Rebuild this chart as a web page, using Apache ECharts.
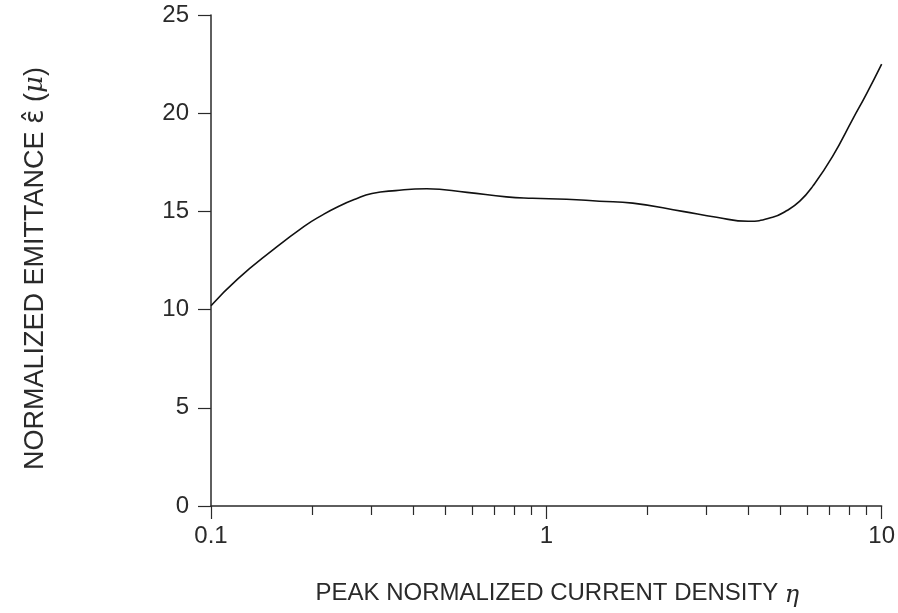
<!DOCTYPE html>
<html lang="en">
<head>
    <meta charset="utf-8">
    <title>emittance</title>
    <script src="https://cdn.jsdelivr.net/npm/echarts@6/dist/echarts.min.js"></script>
</head>
<style type="text/css">
    html, body { margin: 0; padding: 0; background: #fff; }
</style>
<body>
<div id="container" style="width: 898px; height: 613px;"></div>
<script>
    // curve: eta (log axis) -> emittance
    var eta = [0.1, 0.12, 0.152, 0.19, 0.214, 0.239, 0.269, 0.302, 0.355, 0.44, 0.58, 0.76, 0.91, 1.15, 1.44, 1.81, 2.55, 3.22, 4.0, 4.73, 5.2, 5.7, 6.24, 7.14, 8.2, 9.02, 10];
    var emittance = [10.2, 11.55, 13.0, 14.25, 14.8, 15.24, 15.62, 15.91, 16.06, 16.15, 15.97, 15.74, 15.67, 15.62, 15.52, 15.42, 15.0, 14.7, 14.5, 14.7, 15.03, 15.52, 16.3, 17.8, 19.7, 21.0, 22.5];
    var xMajor = [0.1, 1, 10];
    var xMinor = [0.2, 0.3, 0.4, 0.5, 0.6, 0.7, 0.8, 0.9, 2, 3, 4, 5, 6, 7, 8, 9];
    var yTicks = [0, 5, 10, 15, 20, 25];

    var font = "'Liberation Sans', 'Noto Sans', sans-serif";
    var ink = '#2a2a2a';

    var pts = [];
    for (var i = 0; i < eta.length; i++) {
        pts.push([eta[i], emittance[i]]);
    }

    var myChart = echarts.init(document.getElementById('container'));
    var option = {
        backgroundColor: '#fff',
        animation: false,
        grid: { left: 211, right: 16, top: 15, bottom: 105 },
        xAxis: [
            {
                type: 'log',
                logBase: 10,
                min: 0.1,
                max: 10,
                position: 'bottom',
                axisLine: { show: true, onZero: false, lineStyle: { color: ink, width: 1.5 } },
                axisTick: { show: true, inside: false, length: 13, customValues: xMajor, lineStyle: { color: ink, width: 1.2 } },
                axisLabel: {
                    customValues: xMajor, margin: 18,
                    color: ink, fontFamily: font, fontSize: 24,
                    formatter: function (v) { return v === 0.1 ? '0.1' : String(v); }
                },
                splitLine: { show: false },
                name: 'PEAK NORMALIZED CURRENT DENSITY {i|η}',
                nameLocation: 'middle',
                nameGap: 72,
                nameTextStyle: {
                    color: ink, fontFamily: font, fontSize: 24, padding: [0, 0, 0, 22],
                    rich: { i: { fontFamily: 'DejaVu Serif', fontStyle: 'italic', fontSize: 24, color: ink, padding: [6, 0, 0, 0] } }
                }
            },
            {
                type: 'log',
                logBase: 10,
                min: 0.1,
                max: 10,
                position: 'bottom',
                axisLine: { show: false },
                axisTick: { show: true, inside: false, length: 9, customValues: xMinor, lineStyle: { color: ink, width: 1.2 } },
                axisLabel: { show: false },
                splitLine: { show: false }
            }
        ],
        yAxis: {
            type: 'value',
            min: 0,
            max: 25,
            interval: 5,
            axisLine: { show: true, onZero: false, lineStyle: { color: ink, width: 1.5 } },
            axisTick: { show: true, inside: false, length: 13, lineStyle: { color: ink, width: 1.2 } },
            axisLabel: {
                margin: 22, color: ink, fontFamily: font, fontSize: 24,
                formatter: function (v) { return yTicks.indexOf(v) >= 0 ? String(v) : ''; }
            },
            splitLine: { show: false },
            name: 'NORMALIZED EMITTANCE {e|ε\u0302} ({i|μ})',
            nameLocation: 'middle',
            nameGap: 162,
            nameTextStyle: {
                color: ink, fontFamily: font, fontSize: 27, padding: [0, 16, 0, 0],
                rich: {
                    e: { fontFamily: 'DejaVu Sans', fontSize: 27, color: ink },
                    i: { fontFamily: 'DejaVu Serif', fontStyle: 'italic', fontSize: 26, color: ink }
                }
            }
        },
        series: [
            {
                type: 'line',
                xAxisIndex: 0,
                data: pts,
                smooth: 0.5,
                showSymbol: false,
                lineStyle: { color: '#111', width: 1.6 }
            }
        ]
    };
    myChart.setOption(option, true);
</script>
</body>
</html>
